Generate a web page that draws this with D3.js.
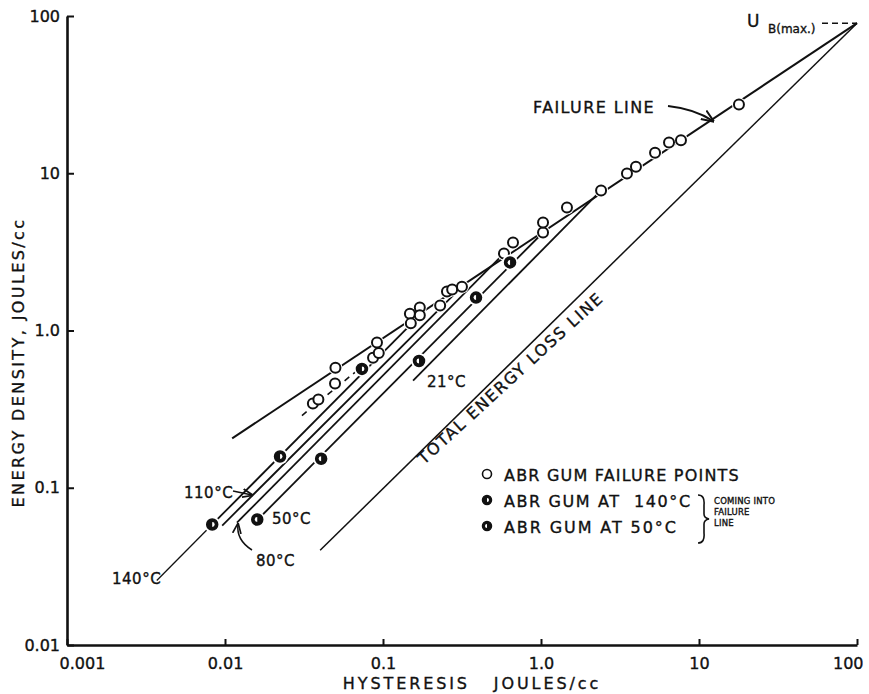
<!DOCTYPE html>
<html>
<head>
<meta charset="utf-8">
<script src="https://cdn.jsdelivr.net/npm/d3@7"></script>
<style>
  html, body { margin: 0; padding: 0; background: #fff; }
  svg { display: block; }
  text { font-family: "DejaVu Sans", sans-serif; fill: #111; stroke: #111; stroke-width: 0.35px; }
</style>
</head>
<body>
<svg id="chart" width="869" height="694"></svg>
<script>
// Axis ticks
const xTicks = [0.001, 0.01, 0.1, 1, 10, 100];
const xTickLabels = ["0.001", "0.01", "0.1", "1.0", "10", "100"];
const yTicks = [0.01, 0.1, 1, 10, 100];
const yTickLabels = ["0.01", "0.1", "1.0", "10", "100"];

// ABR gum failure points (hysteresis, energy density), J/cc
const failX = [0.036, 0.039, 0.050, 0.0497, 0.0865, 0.094, 0.0916, 0.148, 0.150, 0.171, 0.171,
               0.230, 0.254, 0.274, 0.316, 0.583, 0.665, 1.03, 1.03, 1.46, 2.40, 3.50, 3.99,
               5.27, 6.46, 7.69, 17.9];
const failY = [0.343, 0.364, 0.58, 0.46, 0.67, 0.72, 0.84, 1.28, 1.11, 1.40, 1.25,
               1.44, 1.77, 1.82, 1.90, 3.09, 3.63, 4.20, 4.86, 6.06, 7.77, 9.96, 11.0,
               13.5, 15.7, 16.2, 27.4];

// ABR gum at 140 °C, coming into the failure line
const hot140X = [0.0083, 0.0223, 0.0736];
const hot140Y = [0.0584, 0.158, 0.57];

// ABR gum at 50 °C, coming into the failure line
const warm50X = [0.0160, 0.0406, 0.169, 0.388, 0.637];
const warm50Y = [0.0628, 0.153, 0.64, 1.62, 2.71];

// Ultimate energy density U_B(max)
const uMaxX = 100, uMaxY = 90;

// Failure line ends, dashed lower trend ends, total loss line ends
const failLineX = [0.0111, uMaxX], failLineY = [0.206, uMaxY];
const dashLineX = [0.0307, 0.094], dashLineY = [0.288, 0.72];
const lossLineX = [0.040, uMaxX], lossLineY = [0.040, uMaxY];

// Temperature lines (start → end on failure line)
const tempLabels = ["140°C", "110°C", "80°C", "50°C", "21°C"];
const tempStartX = [0.0037, 0.0096, 0.0119, 0.0171, 0.155];
const tempStartY = [0.0257, 0.0575, 0.060, 0.0666, 0.48];
const tempEndX   = [0.171, 0.316, 0.583, 1.03, 2.40];
const tempEndY   = [1.25, 1.90, 3.09, 4.20, 7.77];

const svg = d3.select("#chart");
const x = d3.scaleLog().domain([0.001, 100]).range([67, 857]);
const y = d3.scaleLog().domain([0.01, 100]).range([645, 16]);

const line = d3.line().x(d => x(d[0])).y(d => y(d[1]));
const pairs = (xs, ys) => xs.map((v, i) => [v, ys[i]]);

// Arrowhead
svg.append("defs").append("marker").attr("id", "arrow")
  .attr("viewBox", "0 0 10 10").attr("refX", 9).attr("refY", 5)
  .attr("markerWidth", 7).attr("markerHeight", 7).attr("orient", "auto-start-reverse")
  .append("path").attr("d", "M0,1 L10,5 L0,9").attr("fill", "none")
  .attr("stroke", "#111").attr("stroke-width", 1.6);

// Axes
const xAxis = d3.axisBottom(x).tickValues(xTicks)
  .tickFormat((d, i) => xTickLabels[i]).tickSizeInner(-6).tickSizeOuter(0).tickPadding(10);
const yAxis = d3.axisLeft(y).tickValues(yTicks)
  .tickFormat((d, i) => yTickLabels[i]).tickSizeInner(-7).tickSizeOuter(0).tickPadding(7);

const gx = svg.append("g").attr("transform", `translate(0,${y(0.01)})`).call(xAxis);
const gy = svg.append("g").attr("transform", `translate(${x(0.001)},0)`).call(yAxis);
[gx, gy].forEach(g => {
  g.select(".domain").attr("stroke", "#111").attr("stroke-width", 2.6);
  g.selectAll(".tick line").attr("stroke", "#111").attr("stroke-width", 2);
  g.selectAll(".tick text").style("font-size", "16px").attr("fill", "#111")
    .style("font-family", "DejaVu Sans, sans-serif");
});
gx.selectAll(".tick text").attr("dy", "0.9em");
gx.selectAll(".tick text").filter(d => d === 100).attr("text-anchor", "end").attr("dx", "6");
gx.selectAll(".tick text").filter(d => d === 0.001).attr("dx", "15");

// Axis titles
svg.append("text").attr("x", 472).attr("y", 689).attr("text-anchor", "middle")
  .style("font-size", "16px").style("letter-spacing", "2.9px").attr("xml:space", "preserve")
  .text("HYSTERESIS   JOULES/cc");
svg.append("text").attr("transform", `translate(24,${y(1) + 32}) rotate(-90)`)
  .attr("text-anchor", "middle").style("font-size", "16px").style("letter-spacing", "2.4px")
  .text("ENERGY DENSITY, JOULES/cc");

const plot = svg.append("g");

// Total energy loss line
plot.append("path").attr("d", line(pairs(lossLineX, lossLineY)))
  .attr("fill", "none").attr("stroke", "#111").attr("stroke-width", 1.5);

// Failure line
plot.append("path").attr("d", line(pairs(failLineX, failLineY)))
  .attr("fill", "none").attr("stroke", "#111").attr("stroke-width", 2);

// Dashed lower trend through the failure points
plot.append("path").attr("d", line(pairs(dashLineX, dashLineY)))
  .attr("fill", "none").attr("stroke", "#111").attr("stroke-width", 1.6)
  .attr("stroke-dasharray", "6,5");

// Temperature lines; the 140 °C run is thinner below its first point
tempLabels.forEach((t, i) => {
  const pts = i === 0
    ? [[tempStartX[i], tempStartY[i]], [hot140X[0], hot140Y[0]]]
    : [[tempStartX[i], tempStartY[i]], [tempEndX[i], tempEndY[i]]];
  plot.append("path").attr("d", line(pts))
    .attr("fill", "none").attr("stroke", "#111").attr("stroke-width", i === 0 ? 1.3 : 1.8);
  if (i === 0) {
    plot.append("path").attr("d", line([[hot140X[0], hot140Y[0]], [tempEndX[i], tempEndY[i]]]))
      .attr("fill", "none").attr("stroke", "#111").attr("stroke-width", 1.8);
  }
});

// Failure points: open circles, each with a white halo that breaks the lines
const fp = pairs(failX, failY);
plot.selectAll("circle.halo").data(fp).join("circle").attr("class", "halo")
  .attr("cx", d => x(d[0])).attr("cy", d => y(d[1])).attr("r", 7).attr("fill", "#fff");
plot.selectAll("circle.fail").data(fp).join("circle").attr("class", "fail")
  .attr("cx", d => x(d[0])).attr("cy", d => y(d[1])).attr("r", 5)
  .attr("fill", "#fff").attr("stroke", "#111").attr("stroke-width", 2);

// Half-filled markers
function halfMarker(g, cx, cy, r, left) {
  g.append("circle").attr("cx", cx).attr("cy", cy).attr("r", r + 2.5).attr("fill", "#fff");
  g.append("circle").attr("cx", cx).attr("cy", cy).attr("r", r).attr("fill", "#111")
    .attr("stroke", "#111").attr("stroke-width", 1.5);
  const a = d3.arc()({ innerRadius: 0, outerRadius: r * 0.45,
    startAngle: left ? 0 : Math.PI, endAngle: left ? Math.PI : 2 * Math.PI });
  g.append("path").attr("d", a).attr("transform", `translate(${cx},${cy})`).attr("fill", "#fff");
}
pairs(hot140X, hot140Y).forEach(d => halfMarker(plot, x(d[0]), y(d[1]), 5.5, true));
pairs(warm50X, warm50Y).forEach(d => halfMarker(plot, x(d[0]), y(d[1]), 5.5, false));

// Labels
const lab = (tx, ty, s, size, ls) => svg.append("text").attr("x", tx).attr("y", ty)
  .style("font-size", (size || 15) + "px").style("letter-spacing", (ls || 0.5) + "px").text(s);
lab(112, 584, "140°C");
lab(184, 498, "110°C");
lab(256, 566, "80°C");
lab(272, 524, "50°C");
lab(427, 387, "21°C");

// 110 °C pointer
svg.append("path").attr("d", "M233,491 L252,495").attr("stroke", "#111").attr("stroke-width", 1.5)
  .attr("fill", "none").attr("marker-end", "url(#arrow)");
// 80 °C leader
svg.append("path").attr("d", "M252,550 Q236,540 238,524").attr("stroke", "#111").attr("stroke-width", 1.5)
  .attr("fill", "none").attr("marker-end", "url(#arrow)");

// Failure line label with curved arrow
lab(533, 113, "FAILURE LINE", 16, 1.4);
svg.append("path").attr("d", "M668,106 Q695,109 713,121").attr("stroke", "#111")
  .attr("stroke-width", 1.8).attr("fill", "none").attr("marker-end", "url(#arrow)");

// U_B(max)
svg.append("text").attr("x", 747).attr("y", 27).style("font-size", "17px").text("U");
svg.append("text").attr("x", 768).attr("y", 33).style("font-size", "12px").text("B(max.)");
svg.append("path").attr("d", `M822,${y(uMaxY)} L${x(uMaxX)},${y(uMaxY)}`)
  .attr("stroke", "#111").attr("stroke-width", 1.5).attr("stroke-dasharray", "6,4");

// Total energy loss line label, just below the line
svg.append("text").attr("transform", "translate(424,465) rotate(-42.5)")
  .style("font-size", "16px").style("letter-spacing", "1.7px").text("TOTAL ENERGY LOSS LINE");

// Legend
const lg = svg.append("g");
lg.append("circle").attr("cx", 487).attr("cy", 474).attr("r", 4.5).attr("fill", "#fff")
  .attr("stroke", "#111").attr("stroke-width", 1.6);
halfMarker(lg, 487, 500, 4.5, true);
halfMarker(lg, 487, 526, 4.5, false);
lab(504, 481, "ABR GUM FAILURE POINTS", 16, 1.2);
lab(504, 507, "ABR GUM AT  140°C", 16, 1.6).attr("xml:space", "preserve");
lab(504, 533, "ABR GUM AT 50°C", 16, 1.9);
svg.append("path").attr("d", "M698,495 Q705,495 704,505 L704,514 Q704,518 709,519 Q704,520 704,524 L704,533 Q705,543 698,543")
  .attr("stroke", "#111").attr("stroke-width", 1.6).attr("fill", "none");
lab(714, 504, "COMING INTO", 8.5, 0.2);
lab(714, 515, "FAILURE", 8.5, 0.2);
lab(714, 526, "LINE", 8.5, 0.2);
</script>
</body>
</html>
